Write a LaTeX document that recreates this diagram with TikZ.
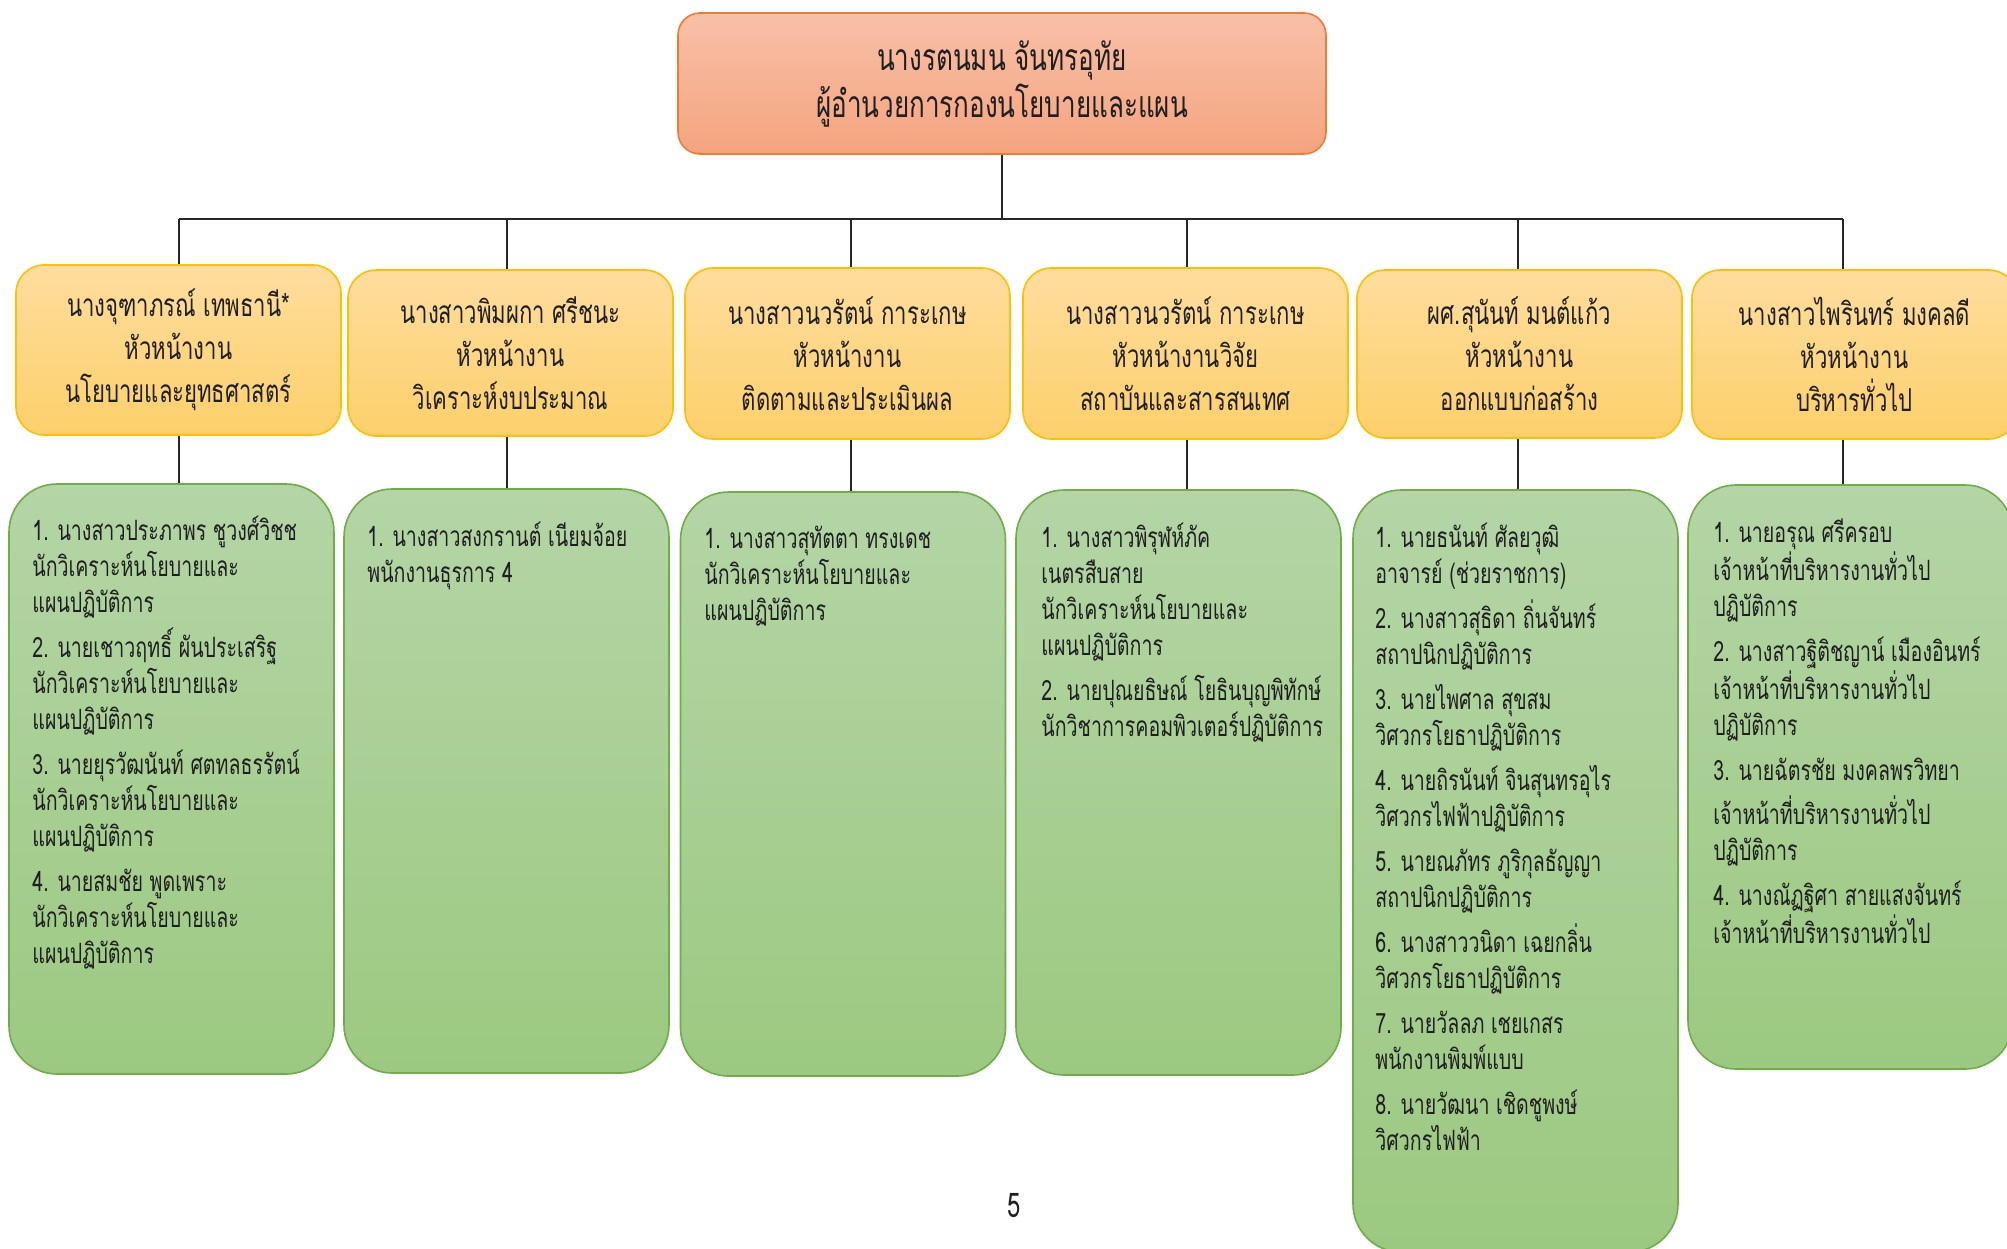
\documentclass[tikz,border=0pt]{standalone}
\usepackage{fontspec}
\newfontfamily\thaifont[Script=Thai,FakeStretch=0.70]{Loma}
\definecolor{textdark}{HTML}{1F1F1F}
\definecolor{toptop}{HTML}{F8C0A8}
\definecolor{topbot}{HTML}{F4A47F}
\definecolor{topline}{HTML}{ED7D31}
\definecolor{headtop}{HTML}{FEDD9E}
\definecolor{headbot}{HTML}{FDD06B}
\definecolor{headline}{HTML}{FFC000}
\definecolor{listtop}{HTML}{B4D5A6}
\definecolor{listbot}{HTML}{9CC981}
\definecolor{listline}{HTML}{70AD47}
\begin{document}
\begin{tikzpicture}[x=0.5pt,y=-0.5pt,
  conn/.style={draw=black!85, line width=0.6pt},
  topbox/.style={draw=topline, top color=toptop, bottom color=topbot,
    rounded corners=11pt, line width=0.8pt, minimum width=324pt,
    minimum height=70.5pt, align=center, text=textdark,
    font=\thaifont\fontsize{18.6pt}{23.5pt}\selectfont},
  headbox/.style={draw=headline, top color=headtop, bottom color=headbot,
    rounded corners=14pt, line width=0.8pt, minimum width=162.5pt,
    align=center, text=textdark,
    font=\thaifont\fontsize{15.8pt}{21.5pt}\selectfont},
  listbox/.style={draw=listline, top color=listtop, bottom color=listbot,
    rounded corners=24pt, line width=0.8pt, minimum width=162.5pt},
  listtext/.style={anchor=north west, align=left, inner sep=0pt, text=textdark,
    font=\thaifont\fontsize{14pt}{18pt}\selectfont}
]
\useasboundingbox (0,0) rectangle (2007,1248);
\fill[white] (0,0) rectangle (2007,1248);

% director
\node[topbox] (top) at (1002,83.5) {นางรตนมน จันทรอุทัย\\ผู้อำนวยการกองนโยบายและแผน};

% section heads
\node[headbox, minimum height=85pt] (l2a) at (178.5,350) {นางจุฑาภรณ์ เทพธานี*\\หัวหน้างาน\\นโยบายและยุทธศาสตร์};
\node[headbox, minimum height=83pt] (l2b) at (510.5,353) {นางสาวพิมผกา ศรีชนะ\\หัวหน้างาน\\วิเคราะห์งบประมาณ};
\node[headbox, minimum height=85.5pt] (l2c) at (847.5,353.5) {นางสาวนวรัตน์ การะเกษ\\หัวหน้างาน\\ติดตามและประเมินผล};
\node[headbox, minimum height=85.5pt] (l2d) at (1185.5,353.5) {นางสาวนวรัตน์ การะเกษ\\หัวหน้างานวิจัย\\สถาบันและสารสนเทศ};
\node[headbox, minimum height=84pt] (l2e) at (1519.5,354) {ผศ.สุนันท์ มนต์แก้ว\\หัวหน้างาน\\ออกแบบก่อสร้าง};
\node[headbox, minimum height=84.5pt] (l2f) at (1854.5,354.5) {นางสาวไพรินทร์ มงคลดี\\หัวหน้างาน\\บริหารทั่วไป};

% staff panels
\node[listbox, minimum height=295pt] (l3a) at (171.5,779) {};
\node[listbox, minimum height=292pt] (l3b) at (506.5,781) {};
\node[listbox, minimum height=292pt] (l3c) at (843,784) {};
\node[listbox, minimum height=292.5pt] (l3d) at (1178.5,782.5) {};
\node[listbox, minimum height=381pt] (l3e) at (1515.5,871) {};
\node[listbox, minimum height=292pt] (l3f) at (1850.5,777) {};

\node[listtext] (t3a) at (32,516) {1. นางสาวประภาพร ชูวงศ์วิชช\\นักวิเคราะห์นโยบายและ\\แผนปฏิบัติการ\\[4.5pt]
2. นายเชาวฤทธิ์ ผันประเสริฐ\\นักวิเคราะห์นโยบายและ\\แผนปฏิบัติการ\\[4.5pt]
3. นายยุรวัฒนันท์ ศตทลธรรัตน์\\นักวิเคราะห์นโยบายและ\\แผนปฏิบัติการ\\[4.5pt]
4. นายสมชัย พูดเพราะ\\นักวิเคราะห์นโยบายและ\\แผนปฏิบัติการ};
\node[listtext] (t3b) at (367,522) {1. นางสาวสงกรานต์ เนียมจ้อย\\พนักงานธุรการ 4};
\node[listtext] (t3c) at (704,526) {1. นางสาวสุทัตตา ทรงเดช\\นักวิเคราะห์นโยบายและ\\แผนปฏิบัติการ};
\node[listtext] (t3d) at (1041,523) {1. นางสาวพิรุฬห์ภัค\\เนตรสืบสาย\\นักวิเคราะห์นโยบายและ\\แผนปฏิบัติการ\\[4.5pt]
2. นายปุณยธิษณ์ โยธินบุญพิทักษ์\\นักวิชาการคอมพิวเตอร์ปฏิบัติการ};
\node[listtext] (t3e) at (1375,523) {1. นายธนันท์ ศัลยวุฒิ\\อาจารย์ (ช่วยราชการ)\\[4.5pt]
2. นางสาวสุธิดา ถิ่นจันทร์\\สถาปนิกปฏิบัติการ\\[4.5pt]
3. นายไพศาล สุขสม\\วิศวกรโยธาปฏิบัติการ\\[4.5pt]
4. นายถิรนันท์ จินสุนทรอุไร\\วิศวกรไฟฟ้าปฏิบัติการ\\[4.5pt]
5. นายณภัทร ภูริกุลธัญญา\\สถาปนิกปฏิบัติการ\\[4.5pt]
6. นางสาววนิดา เฉยกลิ่น\\วิศวกรโยธาปฏิบัติการ\\[4.5pt]
7. นายวัลลภ เชยเกสร\\พนักงานพิมพ์แบบ\\[4.5pt]
8. นายวัฒนา เชิดชูพงษ์\\วิศวกรไฟฟ้า};
\node[listtext] (t3f) at (1713,518) {1. นายอรุณ ศรีครอบ\\เจ้าหน้าที่บริหารงานทั่วไป\\ปฏิบัติการ\\[4.5pt]
2. นางสาวฐิติชญาน์ เมืองอินทร์\\เจ้าหน้าที่บริหารงานทั่วไป\\ปฏิบัติการ\\[4.5pt]
3. นายฉัตรชัย มงคลพรวิทยา\\[4pt]เจ้าหน้าที่บริหารงานทั่วไป\\ปฏิบัติการ\\[4.5pt]
4. นางณัฏฐิศา สายแสงจันทร์\\เจ้าหน้าที่บริหารงานทั่วไป};

% page number
\node[text=textdark, font=\thaifont\fontsize{17pt}{20pt}\selectfont] (pg) at (1014,1206) {5};

% connectors
\coordinate (bus1) at (179,219);
\coordinate (bus2) at (507,219);
\coordinate (bus3) at (851,219);
\coordinate (bus4) at (1187,219);
\coordinate (bus5) at (1518,219);
\coordinate (bus6) at (1843,219);
\draw[conn] (top.south) -- (top.south |- bus1);
\draw[conn] (bus1) -- (bus6);
\foreach \i/\s in {1/a,2/b,3/c,4/d,5/e,6/f}{
  \draw[conn] (bus\i) -- (bus\i |- l2\s.north);
  \draw[conn] (bus\i |- l2\s.south) -- (bus\i |- l3\s.north);
}
\end{tikzpicture}
\end{document}
